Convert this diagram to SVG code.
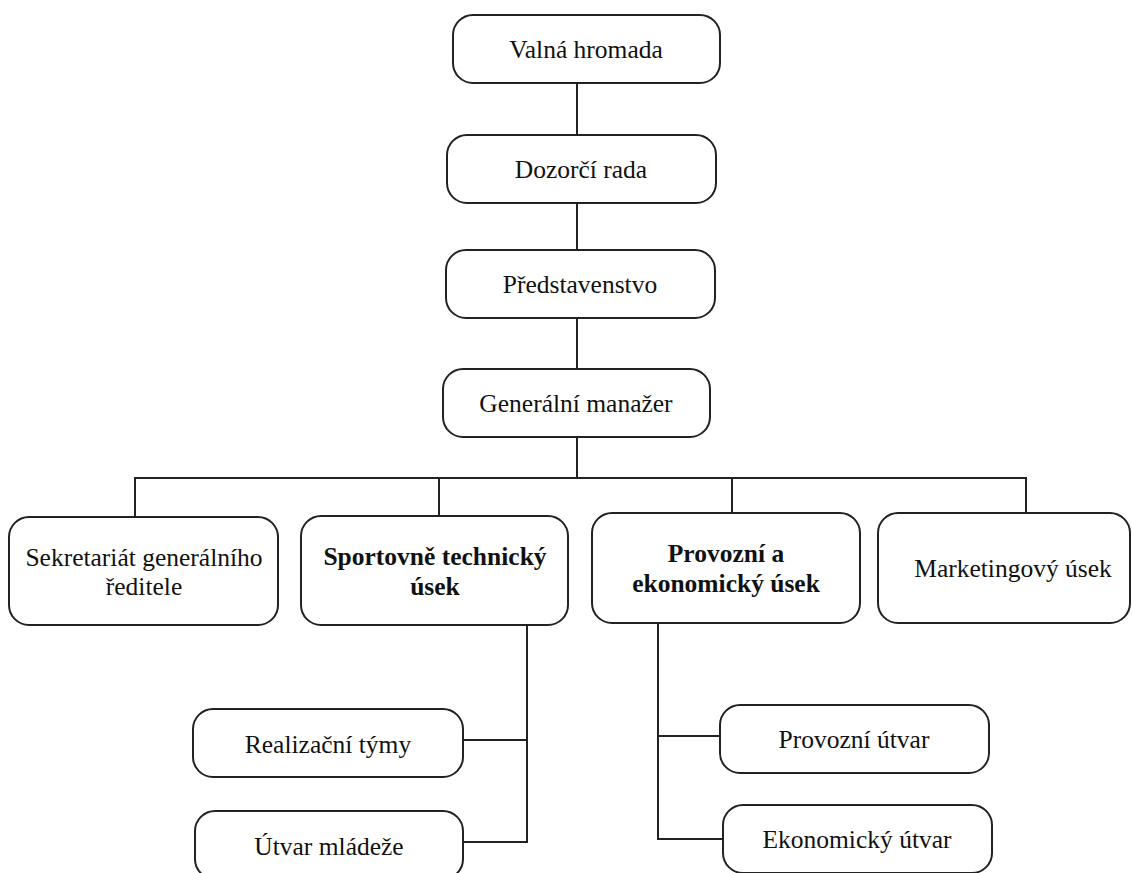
<svg xmlns="http://www.w3.org/2000/svg" width="1132" height="873" viewBox="0 0 1132 873">
<style>
.box{fill:#fff;stroke:#222;stroke-width:2}
.t{font-family:"Liberation Serif","Times New Roman",Times,"Nimbus Roman","Noto Serif","DejaVu Serif",serif;font-size:25.5px;fill:#111;text-anchor:middle}
.b{font-weight:bold}
.c{fill:none;stroke:#222;stroke-width:2}
</style>
<rect width="1132" height="873" fill="#fff"/>
<g id="connectors">
<path class="c" d="M577 83V477"/>
<path class="c" d="M135 517V478H1026V513"/>
<path class="c" d="M439 478V516"/>
<path class="c" d="M732 478V513"/>
<path class="c" d="M527 625V842H463"/>
<path class="c" d="M463 740H527"/>
<path class="c" d="M658 623V839H723"/>
<path class="c" d="M658 736H720"/>
</g>
<g id="valna"><rect class="box" x="453" y="15" width="267" height="68" rx="20"/><text class="t" x="586" y="58">Valná hromada</text></g>
<g id="dozorci"><rect class="box" x="447" y="135" width="269" height="68" rx="20"/><text class="t" x="581" y="178">Dozorčí rada</text></g>
<g id="predstavenstvo"><rect class="box" x="446" y="250" width="269" height="68" rx="20"/><text class="t" x="580" y="293">Představenstvo</text></g>
<g id="gm"><rect class="box" x="443" y="369" width="267" height="68" rx="20"/><text class="t" x="576" y="412">Generální manažer</text></g>
<g id="sekretariat"><rect class="box" x="9" y="517" width="269" height="108" rx="20"/><text class="t" x="144" y="566">Sekretariát generálního</text><text class="t" x="144" y="595">ředitele</text></g>
<g id="sportovne"><rect class="box" x="301" y="516" width="267" height="109" rx="20"/><text class="t b" x="435" y="565">Sportovně technický</text><text class="t b" x="435" y="595">úsek</text></g>
<g id="provozni-ekonomicky"><rect class="box" x="592" y="513" width="268" height="110" rx="20"/><text class="t b" x="726" y="562">Provozní a</text><text class="t b" x="726" y="592">ekonomický úsek</text></g>
<g id="marketing"><rect class="box" x="878" y="513" width="252" height="110" rx="20"/><text class="t" x="1013" y="577">Marketingový úsek</text></g>
<g id="realizacni"><rect class="box" x="193" y="709" width="270" height="68" rx="20"/><text class="t" x="328" y="753">Realizační týmy</text></g>
<g id="mladez"><rect class="box" x="195" y="811" width="268" height="68" rx="20"/><text class="t" x="329" y="855">Útvar mládeže</text></g>
<g id="provozni-utvar"><rect class="box" x="720" y="705" width="269" height="68" rx="20"/><text class="t" x="854" y="748">Provozní útvar</text></g>
<g id="ekonomicky-utvar"><rect class="box" x="723" y="805" width="269" height="68" rx="20"/><text class="t" x="857" y="848">Ekonomický útvar</text></g>
</svg>
